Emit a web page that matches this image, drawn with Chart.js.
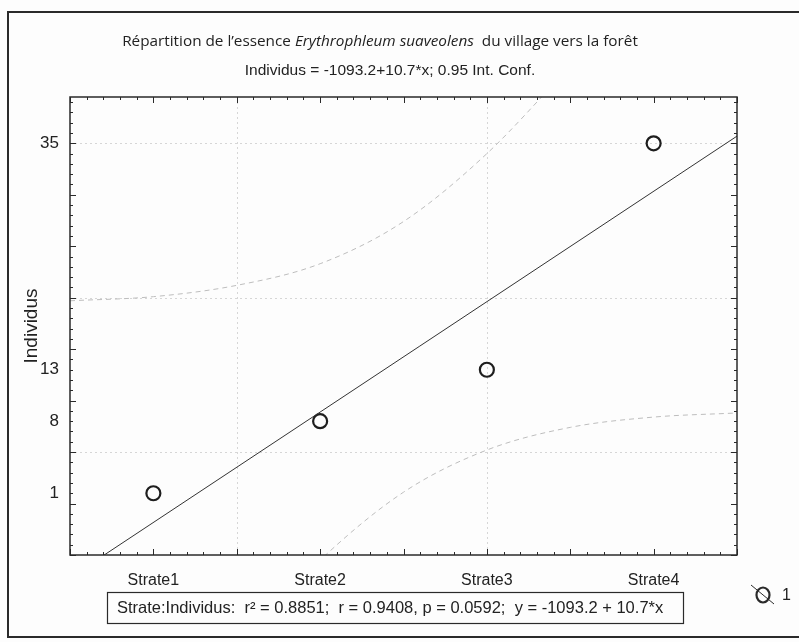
<!DOCTYPE html>
<html>
<head>
<meta charset="utf-8">
<script src="https://cdn.jsdelivr.net/npm/chart.js@4/dist/chart.umd.min.js"></script>
<style>
  html, body { margin: 0; padding: 0; background: #fdfdfd; }
  #wrap { width: 799px; height: 642px; }
</style>
</head>
<body>
<div id="wrap"><canvas id="chart" width="799" height="642"></canvas></div>
<script>
// Données
const categories = ['Strate1', 'Strate2', 'Strate3', 'Strate4'];
const strateX = [1, 2, 3, 4];
const individus = [1, 8, 13, 35];
const yTickLabels = [1, 8, 13, 35];

const fitX = [0.5, 4.5];
const fitY = [-7.2, 35.7];

// intervalle de confiance 0.95 (pointillés)
const upperX = [0.5, 1, 1.5, 2, 2.5, 3, 3.5];
const upperY = [19.7, 20.1, 21.2, 23.3, 27.4, 34.0, 42.5];
const lowerX = [1.5, 2, 2.5, 3, 3.5, 4, 4.5];
const lowerY = [-14.0, -5.5, 1.1, 5.2, 7.4, 8.4, 8.8];

const gridX = [1.5, 3];
const gridY = [5, 20, 35];

const narrow = "'Liberation Sans Narrow', 'Arial Narrow', 'Liberation Sans', sans-serif";
const ink = '#2a2a2a';

function toPoints(xs, ys) {
    return xs.map((x, i) => ({ x: x, y: ys[i] }));
}

// cadre, graduations, titres, encadré des stats
const decor = {
    id: 'decor',
    beforeDatasetsDraw(chart) {
        const ctx = chart.ctx;
        const a = chart.chartArea;
        const xs = chart.scales.x, ys = chart.scales.y;
        ctx.save();
        ctx.strokeStyle = '#d6d6d6';
        ctx.lineWidth = 1;
        ctx.setLineDash([2, 3]);
        gridY.forEach(v => {
            const py = Math.round(ys.getPixelForValue(v)) + 0.5;
            ctx.beginPath(); ctx.moveTo(a.left, py); ctx.lineTo(a.right, py); ctx.stroke();
        });
        gridX.forEach(v => {
            const px = Math.round(xs.getPixelForValue(v)) + 0.5;
            ctx.beginPath(); ctx.moveTo(px, a.top); ctx.lineTo(px, a.bottom); ctx.stroke();
        });
        ctx.restore();
    },
    afterDraw(chart) {
        const ctx = chart.ctx;
        const a = chart.chartArea;
        const xs = chart.scales.x, ys = chart.scales.y;
        ctx.save();
        ctx.strokeStyle = ink;
        ctx.lineWidth = 1;

        // graduations vers l'intérieur sur les 4 côtés
        for (let v = -5; v <= 39; v++) {
            const py = Math.round(ys.getPixelForValue(v)) + 0.5;
            const len = (v % 5 === 0) ? 6 : 3;
            ctx.beginPath();
            ctx.moveTo(a.left, py); ctx.lineTo(a.left + len, py);
            ctx.moveTo(a.right, py); ctx.lineTo(a.right - len, py);
            ctx.stroke();
        }
        for (let k = 5; k <= 45; k++) {
            const px = Math.round(xs.getPixelForValue(k / 10)) + 0.5;
            const len = (k % 5 === 0) ? 6 : 3;
            ctx.beginPath();
            ctx.moveTo(px, a.bottom); ctx.lineTo(px, a.bottom - len);
            ctx.moveTo(px, a.top); ctx.lineTo(px, a.top + len);
            ctx.stroke();
        }

        ctx.lineWidth = 1.5;
        ctx.strokeRect(a.left, a.top, a.right - a.left, a.bottom - a.top);

        // cadre extérieur
        ctx.lineWidth = 2;
        ctx.beginPath();
        ctx.moveTo(802, 12); ctx.lineTo(8, 12); ctx.lineTo(8, 637); ctx.lineTo(802, 637);
        ctx.stroke();

        // titre
        ctx.fillStyle = '#222';
        ctx.textBaseline = 'middle';
        const parts = [
            ['Répartition de l’essence ', "15.3px 'Open Sans', sans-serif"],
            ['Erythrophleum suaveolens', "italic 15.3px 'Open Sans', sans-serif"],
            ['  du village vers la forêt', "15.3px 'Open Sans', sans-serif"]
        ];
        let total = 0;
        parts.forEach(p => { ctx.font = p[1]; total += ctx.measureText(p[0]).width; });
        let tx = 380 - total / 2;
        parts.forEach(p => { ctx.font = p[1]; ctx.textAlign = 'left'; ctx.fillText(p[0], tx, 42); tx += ctx.measureText(p[0]).width; });

        ctx.font = '15.5px ' + narrow;
        ctx.textAlign = 'center';
        ctx.fillText('Individus = -1093.2+10.7*x; 0.95 Int. Conf.', 390, 71);

        // encadré des statistiques
        ctx.lineWidth = 1.2;
        ctx.strokeRect(107.5, 592.5, 576, 31);
        ctx.textAlign = 'left';
        ctx.font = '16.5px ' + narrow;
        ctx.fillText('Strate:Individus:  r² = 0.8851;  r = 0.9408, p = 0.0592;  y = -1093.2 + 10.7*x', 117, 608);

        // légende
        ctx.lineWidth = 2.2;
        ctx.beginPath(); ctx.ellipse(763, 595, 6.5, 7.5, 0, 0, Math.PI * 2); ctx.stroke();
        ctx.lineWidth = 1;
        ctx.beginPath(); ctx.moveTo(751, 585); ctx.lineTo(774, 604); ctx.stroke();
        ctx.font = '16px ' + narrow;
        ctx.fillText('1', 782, 596);
        ctx.restore();
    }
};

const ctx = document.getElementById('chart').getContext('2d');
new Chart(ctx, {
    type: 'scatter',
    data: {
        datasets: [
            {
                label: 'Borne sup.',
                type: 'line',
                data: toPoints(upperX, upperY),
                borderColor: '#bdbdbd',
                borderWidth: 1,
                borderDash: [5, 4],
                pointRadius: 0,
                cubicInterpolationMode: 'monotone',
                fill: false
            },
            {
                label: 'Borne inf.',
                type: 'line',
                data: toPoints(lowerX, lowerY),
                borderColor: '#bdbdbd',
                borderWidth: 1,
                borderDash: [5, 4],
                pointRadius: 0,
                cubicInterpolationMode: 'monotone',
                fill: false
            },
            {
                label: 'Régression',
                type: 'line',
                data: toPoints(fitX, fitY),
                borderColor: '#333',
                borderWidth: 1,
                pointRadius: 0,
                fill: false
            },
            {
                label: '1',
                data: toPoints(strateX, individus),
                pointStyle: 'circle',
                pointRadius: 7,
                pointBorderWidth: 2.2,
                pointBorderColor: '#1e1e1e',
                pointBackgroundColor: 'rgba(0,0,0,0)'
            }
        ]
    },
    options: {
        responsive: false,
        animation: false,
        layout: { padding: { left: 0, right: 62, top: 97, bottom: 47 } },
        plugins: {
            legend: { display: false },
            tooltip: { enabled: false }
        },
        scales: {
            x: {
                type: 'linear',
                min: 0.5,
                max: 4.5,
                grid: { display: false, drawTicks: false },
                border: { display: false },
                afterBuildTicks: scale => { scale.ticks = strateX.map(v => ({ value: v })); },
                afterFit: scale => { scale.height = 40; },
                ticks: {
                    padding: 16,
                    color: '#222',
                    font: { family: narrow, size: 16 },
                    callback: v => categories[v - 1]
                }
            },
            y: {
                type: 'linear',
                min: -5,
                max: 39.5,
                grid: { display: false, drawTicks: false },
                border: { display: false },
                afterBuildTicks: scale => { scale.ticks = yTickLabels.map(v => ({ value: v })); },
                afterFit: scale => { scale.width = 70; },
                title: {
                    display: true,
                    text: 'Individus',
                    color: '#222',
                    font: { family: narrow, size: 19 },
                    padding: { top: 20, bottom: 0 }
                },
                ticks: {
                    padding: 11,
                    color: '#222',
                    font: { family: narrow, size: 17 }
                }
            }
        }
    },
    plugins: [decor]
});
</script>
</body>
</html>
